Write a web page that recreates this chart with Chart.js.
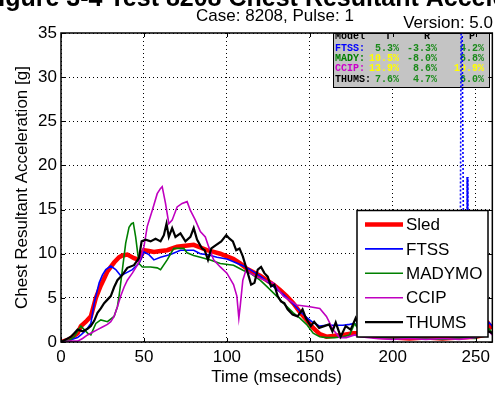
<!DOCTYPE html>
<html><head><meta charset="utf-8">
<script src="https://cdn.jsdelivr.net/npm/chart.js@4"></script>
<style>html,body{margin:0;padding:0;background:#fff}#wrap{width:495px;height:394px;position:relative}</style>
</head><body><div id="wrap"><canvas id="c" width="495" height="394"></canvas></div>
<script>
// ---------- data ----------
const seriesNames = ['Sled','FTSS','MADYMO','CCIP','THUMS'];

const sledT = [0,5,10,12,15,18,21,24,26,28,30,32,35,37,40,42,44,47,50,53,56,60,64,70,75,80,84,88,92,96,100,104,108,112,116,120,124,128,132,136,140,144,148,152,156,160,165,170,176,180,190,200,210,220,230,240,250,255,258,260];
const sledG = [0,0.3,1.0,1.8,2.3,2.9,5.0,6.4,7.2,8.0,8.5,9.0,9.6,9.8,9.9,9.7,9.5,9.3,10.4,10.3,10.2,10.3,10.4,10.8,10.9,11.0,10.7,10.4,10.2,10.0,9.7,9.4,8.9,8.3,7.9,7.5,7.0,6.5,5.9,5.2,4.4,3.4,2.5,1.6,0.9,0.6,0.7,0.8,1.0,1.0,0.6,0.5,0.4,0.5,0.4,0.5,0.6,0.8,2.0,1.5];

const ftssT = [0,5,10,12,15,18,20,23,25,27,30,33,36,39,43,47,50,53,56,60,66,72,80,84,88,94,100,104,110,114,120,124,130,134,140,144,148,152,156,160,165,170,174,177,180,190,200,210,220,230,235,239,240.5,241.2,241.8,243,244.5,244.8,245.3,247,250,255,258,260];
const ftssG = [0,0.2,0.5,0.8,1.3,2.1,4.4,6.7,7.6,8.2,8.6,8.2,7.5,7.8,8.2,8.9,10.2,9.9,9.3,9.6,9.9,10.4,10.4,10.0,9.9,9.6,9.4,9.1,8.6,8.2,7.5,6.9,6.0,5.4,4.3,3.5,2.8,2.2,1.8,1.9,1.9,1.9,2.0,2.1,1.5,1.2,0.9,1.0,0.8,1.1,1.0,0.8,1.2,36,36,0.8,0.6,18.7,0.7,0.9,0.8,1.0,2.2,1.8];

const madyT = [0,5,8,10,12,14,16,18,21,24,28,32,34,35,37,39,41,42.5,43.6,45,47,49,54,58,60,64,68,74,76,80,84,90,96,104,110,114,120,124,130,134,140,144,148,152,156,160,165,170,174,177,180,190,200,210,220,230,240,250,258,260];
const madyG = [0,0.2,0.6,1.2,1.8,1.4,1.0,0.8,2.1,2.5,2.3,2.9,4.0,5.2,8.2,11.2,13.0,13.4,13.5,11.9,8.9,8.5,8.5,8.4,8.2,9.3,10.6,10.6,10.1,9.8,9.6,9.3,8.9,8.7,8.1,7.8,7.0,6.3,5.2,4.4,3.3,2.7,2.0,1.0,0.6,0.5,0.5,0.6,0.8,2.1,1.2,0.6,0.4,0.5,0.4,0.3,0.5,0.4,1.5,1.0];

const ccipT = [0,5,10,13,16,19,22,25,28,30,32,34,36,38,40,43,46,48,50,52,55,58,60,61,63,65,67,70,73,76,78,81,84,87,89,92,96,100,104,106,107.2,108,109.6,111.6,114,118,124,128,134,142,150,156,160,164,168,172,177,180,190,200,210,220,230,240,250,258,260];
const ccipG = [0,0.1,0.1,0.4,0.8,1.1,1.4,1.7,2.0,2.3,2.9,4.0,5.2,6.2,7.0,7.8,8.7,9.5,10.8,13.1,14.9,16.8,17.4,17.6,15.7,13.4,13.8,15.3,15.7,15.9,14.9,13.8,12.5,11.9,10.8,9.3,8.5,7.8,6.5,5.2,2.7,4.0,7.0,8.2,7.8,7.4,6.9,6.7,5.2,4.2,4.0,3.8,2.9,1.4,0.5,0.5,0.8,0.6,0.4,0.3,0.4,0.3,0.4,0.3,0.5,1.2,0.8];

const thumsT = [0,3,6,8,10,13,16,18,20,22,24,26,28,30,32,34,37,40,44,47,48.6,51,54,57,60,62,63.6,65,67,69,72,75,78,80,82,85,86.6,88.6,90.6,93.6,96.6,99.6,101.6,103.6,105.6,107.6,109.6,112.6,114.6,116.6,118.6,120.6,122.6,124.6,126.6,128.6,130.6,132.6,134.6,136.6,139.6,142.6,145.6,147.6,150.6,152.6,155.6,158.6,161.6,163.6,165.6,168.6,171.6,174.6,177.6,180,190,200,210,220,230,240,250,258,260];
const thumsG = [0,0.3,0.6,1.0,1.4,1.2,1.5,1.8,2.4,3.3,3.8,4.4,4.8,5.2,6.2,7.0,7.6,8.4,8.7,9.5,11.4,11.6,11.4,11.7,11.4,12.1,13.4,11.9,12.9,11.9,12.3,11.4,11.9,12.9,11.6,10.6,10.4,9.3,10.6,11.0,11.4,12.1,11.7,11.4,10.4,10.6,9.7,7.8,6.5,6.7,8.2,8.5,7.8,7.4,6.3,6.5,5.2,4.6,4.4,3.7,3.1,2.9,3.7,2.7,1.8,2.3,1.6,1.8,2.0,1.2,2.2,0.6,1.8,1.4,2.7,1.5,1.0,0.9,1.1,0.9,1.0,0.8,1.0,1.2,1.0];

const xTicks = [0,50,100,150,200,250];
const yTicks = [0,5,10,15,20,25,30,35];

const tableHeader = ['Model','T','R','P'];
const tableModels = ['FTSS:','MADY:','CCIP:','THUMS:'];
const tableT = ['5.3%','10.5%','13.9%','7.6%'];
const tableR = ['-3.3%','-8.0%','8.6%','4.7%'];
const tableP = ['4.2%','6.8%','10.9%','6.0%'];

const subTitle = 'Case: 8208, Pulse: 1';
const versionText = 'Version: 5.0';
const figTitle = 'Figure 3-4 Test 8208 Chest Resultant Acceleration';
const xTitle = 'Time (mseconds)';
const yTitle = 'Chest Resultant Acceleration [g]';

// ---------- styles ----------
const FONT = '"Liberation Sans", Arial, sans-serif';
const colors = ['#ff0000','#0000ff','#008000','#c000c0','#000000'];
const widths = [4.5,1.6,1.6,1.6,2.2];
const orders = [5,4,3,2,1];
const modelColors = ['#0000ff','#008000','#cc00cc','#000000'];

function pts(t,g){ return t.map((v,i)=>({x:v,y:g[i]})); }
const allT = [sledT,ftssT,madyT,ccipT,thumsT];
const allG = [sledG,ftssG,madyG,ccipG,thumsG];

const datasets = seriesNames.map((n,i)=>({
  label:n, data:pts(allT[i],allG[i]), borderColor:colors[i], backgroundColor:colors[i],
  borderWidth:widths[i], pointRadius:0, tension:0, fill:false, order:orders[i],
  segment: i===1 ? { borderDash: ctx => (ctx.p0.parsed.x>235 && (ctx.p0.parsed.y>5||ctx.p1.parsed.y>5)) ? [2,2] : undefined } : undefined
}));

const decor = {
  id:'decor',
  beforeDatasetsDraw(chart){
    const ctx = chart.ctx, a = chart.chartArea;
    const bx=333, by=a.top, bw=157, bh=55;
    ctx.save();
    ctx.fillStyle='#c4c4c4'; ctx.fillRect(bx,by,bw,bh);
    ctx.beginPath(); ctx.rect(bx,by,bw,bh); ctx.clip();
    ctx.font='bold 10px "Liberation Mono", "DejaVu Sans Mono", monospace';
    ctx.textBaseline='middle';
    const colR=[399,437,484];
    ctx.fillStyle='#000';
    ctx.textAlign='left'; ctx.fillText(tableHeader[0],335,by+3);
    ctx.textAlign='center';
    ctx.fillText(tableHeader[1],388,by+3); ctx.fillText(tableHeader[2],427,by+3); ctx.fillText(tableHeader[3],472,by+3);
    const rowsY=[by+15.5,by+25.5,by+35.5,by+46];
    const cols=[tableT,tableR,tableP];
    tableModels.forEach((m,i)=>{
      ctx.textAlign='left'; ctx.fillStyle=modelColors[i]; ctx.fillText(m,335,rowsY[i]);
      cols.forEach((c,j)=>{
        const v=Math.abs(parseFloat(c[i]));
        ctx.fillStyle = v>=10 ? '#ffff00' : '#1a8a1a';
        ctx.textAlign='right'; ctx.fillText(c[i],colR[j],rowsY[i]);
      });
    });
    ctx.restore();
    ctx.save();
    ctx.strokeStyle='#000'; ctx.lineWidth=1; ctx.strokeRect(bx+0.5,by+0.5,bw-1,bh-1);
    ctx.restore();
  },
  afterDraw(chart){
    const ctx=chart.ctx, a=chart.chartArea, xs=chart.scales.x, ys=chart.scales.y;
    ctx.save();
    ctx.strokeStyle='#000'; ctx.lineWidth=1.5;
    ctx.strokeRect(a.left,a.top,a.right-a.left,a.bottom-a.top);
    ctx.lineWidth=1;
    ctx.beginPath();
    xTicks.forEach(v=>{const p=Math.round(xs.getPixelForValue(v))+0.5; ctx.moveTo(p,a.bottom); ctx.lineTo(p,a.bottom-4); ctx.moveTo(p,a.top); ctx.lineTo(p,a.top+4);});
    yTicks.forEach(v=>{const p=Math.round(ys.getPixelForValue(v))+0.5; ctx.moveTo(a.left,p); ctx.lineTo(a.left+4,p); ctx.moveTo(a.right,p); ctx.lineTo(a.right-4,p);});
    ctx.stroke();
    const lx=357, ly=210.5, lw=131, lh=126.5;
    ctx.fillStyle='#fff'; ctx.fillRect(lx,ly,lw,lh);
    ctx.lineWidth=1.5; ctx.strokeStyle='#000'; ctx.strokeRect(lx,ly,lw,lh);
    ctx.font='17px '+FONT; ctx.textBaseline='middle'; ctx.textAlign='left';
    chart.data.datasets.forEach((d,i)=>{
      const y=224.5+i*24.4;
      ctx.strokeStyle=d.borderColor; ctx.lineWidth=d.borderWidth; ctx.setLineDash([]);
      ctx.beginPath(); ctx.moveTo(365,y); ctx.lineTo(403,y); ctx.stroke();
      ctx.fillStyle='#000'; ctx.fillText(d.label,406,y+1);
    });
    ctx.fillStyle='#000';
    ctx.font='bold 25px '+FONT; ctx.textAlign='left'; ctx.textBaseline='alphabetic';
    ctx.fillText(figTitle,-17,6);
    ctx.font='17px '+FONT; ctx.textAlign='center';
    ctx.fillText(subTitle,275,21);
    ctx.textAlign='right'; ctx.fillText(versionText,493,28);
    ctx.restore();
  }
};

new Chart(document.getElementById('c'),{
  type:'line',
  data:{datasets},
  options:{
    responsive:false, animation:false, devicePixelRatio:1,
    layout:{padding:{top:33,right:2,left:0,bottom:0}},
    plugins:{legend:{display:false},tooltip:{enabled:false},title:{display:false}},
    scales:{
      x:{type:'linear',min:0,max:260,
        afterBuildTicks:s=>{s.ticks=xTicks.map(v=>({value:v}));},
        afterFit:s=>{s.height=52;},
        ticks:{color:'#000',font:{family:FONT,size:17},padding:5,maxRotation:0},
        grid:{color:'#000',lineWidth:1,drawTicks:false},
        border:{display:false,dash:[1,3]},
        title:{display:true,text:xTitle,color:'#000',font:{family:FONT,size:17},padding:{top:0,bottom:6}}
      },
      y:{type:'linear',min:0,max:35,
        afterBuildTicks:s=>{s.ticks=yTicks.map(v=>({value:v}));},
        afterFit:s=>{s.width=61;},
        ticks:{color:'#000',font:{family:FONT,size:17},padding:4},
        grid:{color:'#000',lineWidth:1,drawTicks:false},
        border:{display:false,dash:[1,3]},
        title:{display:true,text:yTitle,color:'#000',font:{family:FONT,size:17},padding:{top:12,bottom:0}}
      }
    }
  },
  plugins:[decor]
});
</script></body></html>
